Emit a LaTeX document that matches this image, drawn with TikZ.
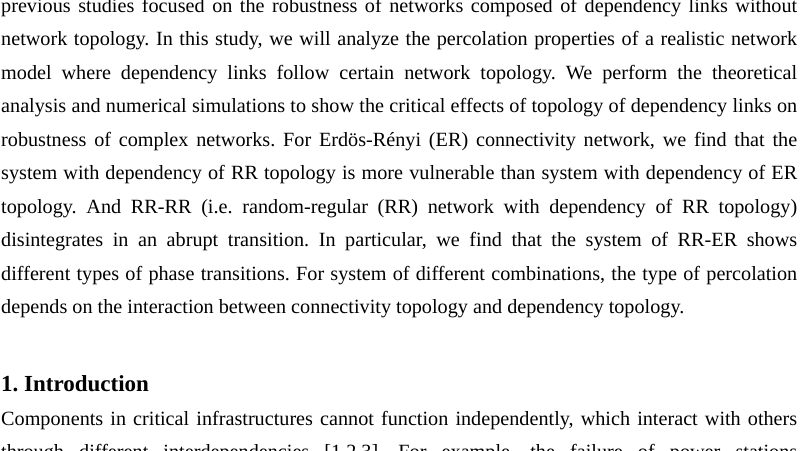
\documentclass[tikz,border=0pt]{standalone}
\usepackage{fontspec}
\setmainfont{Liberation Serif}
\begin{document}
\frenchspacing
\begin{tikzpicture}[x=1pt,y=1pt,
  ln/.style={anchor=base west,inner sep=0pt,font=\fontsize{20.2}{22}\selectfont}]
\useasboundingbox (0,0) rectangle (800,-450);
\clip (0,0) rectangle (800,-450);
\node[ln] (l1) at (1,-12) {\makebox[796pt][s]{previous studies focused on the robustness of networks composed of dependency links without}};
\node[ln] (l2) at (1,-45.5) {\makebox[796pt][s]{network topology. In this study, we will analyze the percolation properties of a realistic network}};
\node[ln] (l3) at (1,-79) {\makebox[796pt][s]{model where dependency links follow certain network topology. We perform the theoretical}};
\node[ln] (l4) at (1,-112.5) {\makebox[796pt][s]{analysis and numerical simulations to show the critical effects of topology of dependency links on}};
\node[ln] (l5) at (1,-146) {\makebox[796pt][s]{robustness of complex networks. For Erdös-Rényi (ER) connectivity network, we find that the}};
\node[ln] (l6) at (1,-179.5) {\makebox[796pt][s]{system with dependency of RR topology is more vulnerable than system with dependency of ER}};
\node[ln] (l7) at (1,-213) {\makebox[796pt][s]{topology. And RR-RR (i.e. random-regular (RR) network with dependency of RR topology)}};
\node[ln] (l8) at (1,-246.5) {\makebox[796pt][s]{disintegrates in an abrupt transition. In particular, we find that the system of RR-ER shows}};
\node[ln] (l9) at (1,-280) {\makebox[796pt][s]{different types of phase transitions. For system of different combinations, the type of percolation}};
\node[ln] (l10) at (1,-313.5) {depends on the interaction between connectivity topology and dependency topology.};
\node[ln,font=\fontsize{23}{26}\selectfont\bfseries] (h) at (1,-391) {1. Introduction};
\node[ln] (p1) at (1,-425) {\makebox[796pt][s]{Components in critical infrastructures cannot function independently, which interact with others}};
\node[ln] (p2) at (1,-458.5) {\makebox[796pt][s]{through different interdependencies [1,2,3]. For example, the failure of power stations}};
\end{tikzpicture}
\end{document}
